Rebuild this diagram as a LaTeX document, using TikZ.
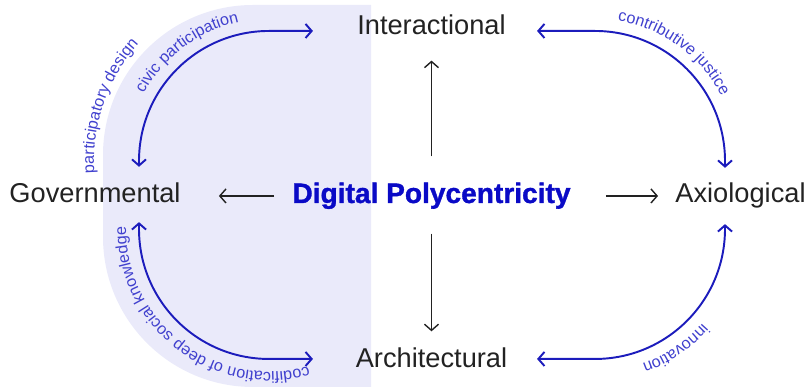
\documentclass[tikz,border=0pt]{standalone}
\usepackage{fontspec}
\setmainfont{Liberation Sans}
\newfontfamily\dpfont{Liberation Sans Bold}[FakeBold=1.2]
\usetikzlibrary{arrows.meta,decorations.text}
\definecolor{pcblue}{RGB}{10,10,198}
\definecolor{pcline}{RGB}{28,28,188}
\definecolor{pclabel}{RGB}{64,64,206}
\definecolor{pcshade}{RGB}{234,234,250}
\definecolor{pcdark}{RGB}{34,34,34}
\newcommand{\lblfont}{\fontsize{9.2}{11}\selectfont}

\begin{document}
\begin{tikzpicture}[
  dim/.style={font=\fontsize{15.5}{18}\selectfont, text=pcdark, inner sep=0pt, text height=11pt, text depth=3pt, anchor=base},
  flow/.style={pcdark, line width=0.8pt, -{Straight Barb[length=3.5pt,width=8pt]}},
  link/.style={pcline, line width=1.1pt, {Straight Barb[length=3.5pt,width=8pt]}-{Straight Barb[length=3.5pt,width=8pt]}, rounded corners=2.6cm},
  lbl/.style={decorate, decoration={text along path, text align=center, text color=pclabel, text={|\lblfont|#1}}}
]
\useasboundingbox (0,0) rectangle (16.18,7.74);

% Shaded half
\fill[pcshade] (7.42,0) -- (5.06,0) arc[start angle=270,end angle=180,radius=3]
  -- (2.06,4.64) arc[start angle=180,end angle=90,radius=3] -- (7.42,7.64) -- cycle;

% Centre and the four dimensions
\node[dim, font=\fontsize{16}{19}\selectfont\dpfont, text=pcblue] (dp) at (8.63,3.68) {Digital Polycentricity};
\node[dim] (inter) at (8.63,7.04) {Interactional};
\node[dim] (gov) at (1.90,3.68) {Governmental};
\node[dim] (axi) at (14.81,3.68) {Axiological};
\node[dim] (arch) at (8.63,0.38) {Architectural};

\draw[flow, shorten <=0.54cm, shorten >=0.40cm] (dp) -- (inter);
\draw[flow, shorten <=0.36cm, shorten >=0.76cm] (dp) -- (gov);
\draw[flow, shorten <=0.70cm, shorten >=0.34cm] (dp) -- (axi);
\draw[flow, shorten <=0.50cm, shorten >=0.34cm] (dp) -- (arch);

% Links between dimensions
\draw[link] ([shift={(0.88,0.33)}]gov.north) |- ([shift={(-0.88,-0.06)}]inter.west);
\draw[link] ([shift={(0.62,-0.06)}]inter.east) -| ([shift={(-0.31,0.31)}]axi.north);
\draw[link] ([shift={(0.88,-0.27)}]gov.south) |- ([shift={(-0.85,0.04)}]arch.west);
\draw[link] ([shift={(0.59,0.04)}]arch.east) -| ([shift={(-0.31,-0.31)}]axi.south);

% Labels along the links
\path[lbl={civic participation}] (5.38,4.52) ++(170:2.84) arc[start angle=170,end angle=84,radius=2.84];
\path[lbl={participatory design}] (5.38,4.52) ++(198:3.50) arc[start angle=198,end angle=124,radius=3.50];
\path[lbl={contributive justice}] (11.90,4.52) ++(98:2.84) arc[start angle=98,end angle=10,radius=2.84];
\path[lbl={codification of deep social knowledge}] (5.38,3.16) ++(305:2.86) arc[start angle=305,end angle=160,radius=2.86];
\path[lbl={innovation}] (11.90,3.16) ++(340:2.86) arc[start angle=340,end angle=268,radius=2.86];
\end{tikzpicture}
\end{document}
